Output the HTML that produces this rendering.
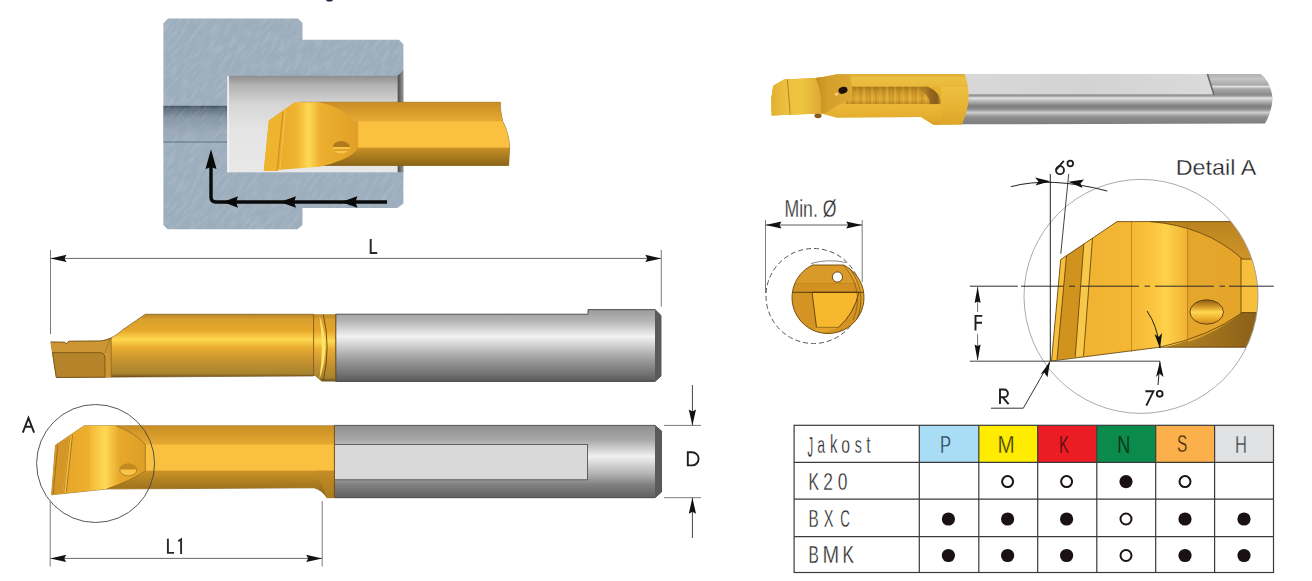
<!DOCTYPE html>
<html><head><meta charset="utf-8">
<style>
html,body{margin:0;padding:0;background:#fff;}
body{width:1312px;height:581px;overflow:hidden;position:relative;}
svg{position:absolute;left:0;top:0;}
text{font-family:"Liberation Sans",sans-serif;}
</style></head>
<body>
<svg width="1312" height="581" viewBox="0 0 1312 581">
<defs>
  <linearGradient id="cav" x1="0" y1="0" x2="0" y2="1">
    <stop offset="0" stop-color="#8e8e8e"/>
    <stop offset="0.1" stop-color="#b4b4b4"/>
    <stop offset="0.3" stop-color="#d6d6d6"/>
    <stop offset="0.55" stop-color="#e4e4e4"/>
    <stop offset="1" stop-color="#e8e8e8"/>
  </linearGradient>
  <linearGradient id="bore" x1="0" y1="0" x2="0" y2="1">
    <stop offset="0" stop-color="#3e4e5c"/>
    <stop offset="0.08" stop-color="#5e6e7c"/>
    <stop offset="0.35" stop-color="#8898a6"/>
    <stop offset="0.7" stop-color="#98a8b6"/>
    <stop offset="1" stop-color="#9cadbc"/>
  </linearGradient>
  <linearGradient id="chamf" x1="0" y1="0" x2="1" y2="0">
    <stop offset="0" stop-color="#4a4a4a"/>
    <stop offset="1" stop-color="#9a9a9a"/>
  </linearGradient>
  <!-- insert highlight horizontal gradient -->
  <linearGradient id="insH" x1="0" y1="0" x2="1" y2="0">
    <stop offset="0" stop-color="#e2a124"/>
    <stop offset="0.35" stop-color="#f0b430"/>
    <stop offset="0.48" stop-color="#ffd855"/>
    <stop offset="0.6" stop-color="#eeb030"/>
    <stop offset="1" stop-color="#dfa026"/>
  </linearGradient>
  <linearGradient id="insTop" x1="51" y1="0" x2="146" y2="0" gradientUnits="userSpaceOnUse">
    <stop offset="0" stop-color="#e2a124"/>
    <stop offset="0.4" stop-color="#eeb030"/>
    <stop offset="0.42" stop-color="#f4bc38"/>
    <stop offset="0.57" stop-color="#ffd855"/>
    <stop offset="0.72" stop-color="#e8a82c"/>
    <stop offset="1" stop-color="#dc9e26"/>
  </linearGradient>
  <linearGradient id="bandTop" x1="0" y1="0" x2="0" y2="1">
    <stop offset="0" stop-color="#c98f25"/>
    <stop offset="1" stop-color="#e6a832"/>
  </linearGradient>
  <linearGradient id="bandBot" x1="0" y1="0" x2="0" y2="1">
    <stop offset="0" stop-color="#c99226"/>
    <stop offset="1" stop-color="#8a6418"/>
  </linearGradient>
  <linearGradient id="goldSide" x1="0" y1="0" x2="0" y2="1">
    <stop offset="0" stop-color="#b88428"/>
    <stop offset="0.08" stop-color="#d9a02e"/>
    <stop offset="0.25" stop-color="#e6a62a"/>
    <stop offset="0.4" stop-color="#ffd850"/>
    <stop offset="0.52" stop-color="#ebae32"/>
    <stop offset="0.72" stop-color="#c99430"/>
    <stop offset="0.94" stop-color="#a8842e"/>
    <stop offset="1" stop-color="#6a5020"/>
  </linearGradient>
  <linearGradient id="graySide" x1="0" y1="0" x2="0" y2="1">
    <stop offset="0" stop-color="#9a9a9a"/>
    <stop offset="0.16" stop-color="#b5b5b5"/>
    <stop offset="0.376" stop-color="#f2f2f2"/>
    <stop offset="0.53" stop-color="#c8c8c8"/>
    <stop offset="0.68" stop-color="#a0a0a0"/>
    <stop offset="0.86" stop-color="#7a7a7a"/>
    <stop offset="1" stop-color="#5a5a5a"/>
  </linearGradient>
  <linearGradient id="grayTop" x1="0" y1="0" x2="0" y2="1">
    <stop offset="0" stop-color="#909090"/>
    <stop offset="0.2" stop-color="#a8a8a8"/>
    <stop offset="0.43" stop-color="#f0f0f0"/>
    <stop offset="0.68" stop-color="#b0b0b0"/>
    <stop offset="0.82" stop-color="#808080"/>
    <stop offset="1" stop-color="#606060"/>
  </linearGradient>
  <linearGradient id="gray3d" x1="0" y1="74" x2="0" y2="124" gradientUnits="userSpaceOnUse">
    <stop offset="0" stop-color="#b0b0b0"/>
    <stop offset="0.1" stop-color="#c4c4c4"/>
    <stop offset="0.22" stop-color="#a8a8a8"/>
    <stop offset="0.25" stop-color="#e2e2e2"/>
    <stop offset="0.3" stop-color="#a6a6a6"/>
    <stop offset="0.41" stop-color="#8c8c8c"/>
    <stop offset="0.44" stop-color="#9a9a9a"/>
    <stop offset="0.48" stop-color="#e4e4e4"/>
    <stop offset="0.54" stop-color="#b8b8b8"/>
    <stop offset="0.64" stop-color="#7e7e7e"/>
    <stop offset="0.7" stop-color="#8a8a8a"/>
    <stop offset="0.77" stop-color="#cdcdcd"/>
    <stop offset="0.86" stop-color="#8e8e8e"/>
    <stop offset="1" stop-color="#7e7e7e"/>
  </linearGradient>
  <linearGradient id="gold3d" x1="0" y1="0" x2="0" y2="1">
    <stop offset="0" stop-color="#e9bf52"/>
    <stop offset="0.25" stop-color="#e8b94a"/>
    <stop offset="0.5" stop-color="#dba235"/>
    <stop offset="0.75" stop-color="#e6ac38"/>
    <stop offset="1" stop-color="#d49a2a"/>
  </linearGradient>
  <linearGradient id="detH" x1="1051" y1="0" x2="1260" y2="0" gradientUnits="userSpaceOnUse">
    <stop offset="0" stop-color="#eeae30"/>
    <stop offset="0.38" stop-color="#f4b834"/>
    <stop offset="0.5" stop-color="#fbc640"/>
    <stop offset="0.55" stop-color="#ffd24c"/>
    <stop offset="0.66" stop-color="#eeb030"/>
    <stop offset="1" stop-color="#e2a22a"/>
  </linearGradient>
  <linearGradient id="detTR" x1="0" y1="221" x2="0" y2="259" gradientUnits="userSpaceOnUse">
    <stop offset="0" stop-color="#b8841e"/>
    <stop offset="1" stop-color="#d09428"/>
  </linearGradient>
  <linearGradient id="detBR" x1="1160" y1="0" x2="1258" y2="0" gradientUnits="userSpaceOnUse">
    <stop offset="0" stop-color="#b88624"/>
    <stop offset="1" stop-color="#8a6018"/>
  </linearGradient>
  <linearGradient id="detHole" x1="0" y1="0" x2="0" y2="1">
    <stop offset="0" stop-color="#8a5c14"/>
    <stop offset="0.3" stop-color="#d89a28"/>
    <stop offset="0.5" stop-color="#ffd850"/>
    <stop offset="0.75" stop-color="#f0b030"/>
    <stop offset="1" stop-color="#c88a20"/>
  </linearGradient>
  <linearGradient id="grayFlat" x1="0" y1="0" x2="1" y2="0">
    <stop offset="0" stop-color="#d8d8d8"/>
    <stop offset="0.5" stop-color="#d3d3d3"/>
    <stop offset="1" stop-color="#dadada"/>
  </linearGradient>
  <linearGradient id="fluteEnd" x1="915" y1="0" x2="941" y2="0" gradientUnits="userSpaceOnUse">
    <stop offset="0" stop-color="#b88a30" stop-opacity="0"/>
    <stop offset="0.55" stop-color="#9a6a20"/>
    <stop offset="0.85" stop-color="#8a5c18"/>
    <stop offset="1" stop-color="#c89634"/>
  </linearGradient>
  <linearGradient id="g3top" x1="0" y1="0" x2="0" y2="1">
    <stop offset="0" stop-color="#dcaa30"/>
    <stop offset="0.3" stop-color="#ecc040"/>
    <stop offset="1" stop-color="#e8b83a"/>
  </linearGradient>
  <linearGradient id="g3flute" x1="0" y1="0" x2="0" y2="1">
    <stop offset="0" stop-color="#a87818"/>
    <stop offset="0.3" stop-color="#cc9626"/>
    <stop offset="0.7" stop-color="#deaa32"/>
    <stop offset="1" stop-color="#c08a22"/>
  </linearGradient>
  <pattern id="g3stripes" x="846" y="0" width="23" height="200" patternUnits="userSpaceOnUse">
    <rect x="0" y="0" width="1.6" height="200" fill="#a47420"/>
    <rect x="2.5" y="0" width="1.3" height="200" fill="#f2c860"/>
    <rect x="6" y="0" width="2" height="200" fill="#a87822"/>
    <rect x="10.5" y="0" width="1.2" height="200" fill="#f0c45a"/>
    <rect x="14" y="0" width="1.4" height="200" fill="#a47420"/>
    <rect x="17" y="0" width="2" height="200" fill="#eec058"/>
    <rect x="20.5" y="0" width="1.2" height="200" fill="#a87822"/>
  </pattern>
  <linearGradient id="g3low" x1="0" y1="0" x2="0" y2="1">
    <stop offset="0" stop-color="#ecb838"/>
    <stop offset="0.6" stop-color="#e6ae2e"/>
    <stop offset="1" stop-color="#d89e22"/>
  </linearGradient>
  <linearGradient id="g3right" x1="0" y1="0" x2="0" y2="1">
    <stop offset="0" stop-color="#eec040"/>
    <stop offset="0.5" stop-color="#e8b434"/>
    <stop offset="1" stop-color="#dca628"/>
  </linearGradient>
  <linearGradient id="g3ins" x1="0" y1="0" x2="1" y2="0">
    <stop offset="0" stop-color="#ecbe38"/>
    <stop offset="0.6" stop-color="#eec440"/>
    <stop offset="1" stop-color="#dca632"/>
  </linearGradient>
  <linearGradient id="g3insL" x1="0" y1="0" x2="1" y2="0">
    <stop offset="0" stop-color="#e2b030"/>
    <stop offset="1" stop-color="#f0c444"/>
  </linearGradient>
  <linearGradient id="g3clamp" x1="0" y1="0" x2="1" y2="0">
    <stop offset="0" stop-color="#c48c1e"/>
    <stop offset="0.3" stop-color="#d49e2a"/>
    <stop offset="1" stop-color="#dca834"/>
  </linearGradient>
  <marker id="arr" viewBox="0 0 10 6" refX="10" refY="3" markerWidth="14" markerHeight="6" markerUnits="userSpaceOnUse" orient="auto">
    <path d="M0,0 L10,3 L0,6 L3,3 Z" fill="#111"/>
  </marker>
  <filter id="tex" x="-100" y="-200" width="800" height="700" filterUnits="userSpaceOnUse">
    <feTurbulence type="fractalNoise" baseFrequency="0.3 0.07" numOctaves="3" seed="7" result="n"/>
    <feColorMatrix in="n" type="matrix" values="0 0 0 0 1  0 0 0 0 1  0 0 0 0 1  1.4 0 0 0 -0.55" result="w"/>
    <feGaussianBlur in="w" stdDeviation="0.6"/>
  </filter>
  <clipPath id="blockclip"><path d="M163.4,23.5 L168,18.5 L298,18.5 L302.5,23 L302.5,39.8 L399,39.8 L403.4,44.5 L403.4,203.4 L397.7,208 L302.5,208 L302.5,225 L297.5,229.3 L167.5,229.3 L163.4,225 Z"/></clipPath>
</defs>

<!-- descender of cut-off title -->
<ellipse cx="329.5" cy="0" rx="3.2" ry="1.6" fill="#1c2440"/>

<!-- ============ WORKPIECE SECTION ============ -->
<path d="M163.4,23.5 L168,18.5 L298,18.5 L302.5,23 L302.5,39.8 L399,39.8 L403.4,44.5 L403.4,203.4 L397.7,208 L302.5,208 L302.5,225 L297.5,229.3 L167.5,229.3 L163.4,225 Z" fill="#9cadbc"/>
<!-- bore -->
<rect x="163.4" y="105.8" width="64" height="36.2" fill="url(#bore)"/>
<line x1="163.4" y1="142" x2="227.3" y2="142" stroke="#5a6a78" stroke-width="1"/>
<g clip-path="url(#blockclip)"><g transform="rotate(38 283 124)"><rect x="-100" y="-200" width="800" height="700" filter="url(#tex)" opacity="0.22"/></g></g>
<!-- cavity -->
<rect x="227.3" y="75.8" width="172" height="96.5" fill="url(#cav)"/>
<path d="M397.7,75.8 L403.4,70 L403.4,172.3 L397.7,172.3 Z" fill="url(#chamf)"/>
<rect x="227.3" y="75.8" width="1.6" height="96.5" fill="#f6f6f6"/>

<!-- tool in cavity: shank -->
<path d="M300,102.3 L500.3,102.3 L500.3,108 Q501,113 502.5,121 Q509,133 509.6,147.7 L508.6,165.5 L300,165.5 Z" fill="#e0a22e" stroke="#7a5410" stroke-width="0.7"/>
<path d="M300,102.3 L500.3,102.3 L500.3,108 Q501,113 502.5,121 L300,121 Z" fill="url(#bandTop)"/>
<path d="M358.2,121.3 L502.5,121.3 Q509,133 509.6,147.7 L358.2,147.7 Z" fill="#f9c13f"/>
<path d="M300,147.7 L509.6,147.7 L508.6,165.5 L300,165.5 Z" fill="url(#bandBot)"/>
<!-- insert -->
<path d="M294.5,102.3 L318,102.3 Q338,106 350,117 Q357.4,125 357.4,135 L357.4,149 Q352,156 342.8,159.4 Q332,164 319.4,166.7 L263.8,171.1 L268.9,120.6 Z" fill="url(#insH)"/>
<path d="M268.9,120.6 L282.8,112 L277,171 L263.8,171.1 Z" fill="#eeb42e"/>
<line x1="282.8" y1="112" x2="277" y2="171" stroke="#c08820" stroke-width="0.8"/>
<line x1="285.5" y1="110" x2="279.8" y2="170.5" stroke="#f6c040" stroke-width="1.2"/>
<ellipse cx="341.3" cy="147.7" rx="8.5" ry="5.9" fill="#f8c548"/>
<path d="M332.8,147 A8.5,5.9 0 0 1 349.8,147 Z" fill="#b07a1c"/>
<rect x="333.5" y="149.2" width="15.6" height="1.6" fill="#d69a28"/>

<!-- arrows in section -->
<path d="M211,165 L211,197 Q211,202 216,202 L387,202" fill="none" stroke="#0a0a0a" stroke-width="3.4"/>
<path d="M211,149.2 L216.5,169 L211,167 L205.5,169 Z" fill="#0a0a0a"/>
<path d="M223,202 L238,196.3 L236,202 L238,207.7 Z" fill="#0a0a0a"/>
<path d="M280,202 L296,196.3 L294,202 L296,207.7 Z" fill="#0a0a0a"/>
<path d="M341,202 L357.4,196.3 L355.4,202 L357.4,207.7 Z" fill="#0a0a0a"/>

<!-- ============ DIMENSION L ============ -->
<line x1="50.5" y1="250" x2="50.5" y2="334" stroke="#7a7a7a" stroke-width="1"/>
<line x1="661.3" y1="250" x2="661.3" y2="306.6" stroke="#7a7a7a" stroke-width="1"/>
<line x1="51" y1="258.4" x2="661" y2="258.4" stroke="#6a6a6a" stroke-width="1"/>
<path d="M50.5,258.4 L66.5,254.8 L64.5,258.4 L66.5,262 Z" fill="#111"/>
<path d="M661.3,258.4 L645.3,254.8 L647.3,258.4 L645.3,262 Z" fill="#111"/>
<path d="M370.7,239 V253 H377.2" fill="none" stroke="#2a2a2a" stroke-width="2"/>

<!-- ============ SIDE VIEW ============ -->
<path d="M335.7,314.2 L588,314.2 L588,309.6 L655,309.6 L661,315.5 L661,376 L655,381.4 L335.7,381.4 Z" fill="url(#graySide)" stroke="#333" stroke-width="0.8"/>
<path d="M655,309.6 L661,315.5 L661,376 L655,381.4 Z" fill="#5a5a5a"/>
<path d="M50.8,342 L64.8,342.3 L66.5,344 L68.5,341.3 L100.4,341 C110,340 118,334 123,329.5 L145.3,314.2 L313.6,314.2 L313.6,376 L56.3,377.4 Z" fill="url(#goldSide)" stroke="#6a4a10" stroke-width="0.6"/>

<path d="M50.8,342 L64.8,342.3 L66.5,344 L68.5,341.3 L100.4,341 C104,340.6 108,339.5 111.2,338 L111.2,377 L105,377 L105,358 Q105,353.5 101,352.6 L52.5,352.6 Z" fill="#cc9634"/>
<path d="M52.5,352.6 L101,352.6 Q105,353.5 105,358 L105,377.2 L56.3,377.4 Z" fill="#b5832a" stroke="#6a4a10" stroke-width="0.7"/>
<line x1="111.2" y1="338" x2="111.2" y2="377" stroke="#8a6018" stroke-width="0.7"/>
<path d="M50.8,342 L64.8,342.3 L66.5,344 L68.5,341.3 L100.4,341 C104,340.6 108,339.5 111.2,338" fill="none" stroke="#6a4a10" stroke-width="0.7"/>
<line x1="105" y1="353" x2="109.7" y2="338.5" stroke="#8a6018" stroke-width="0.5"/>
<!-- ring -->
<path d="M313.6,314.2 L335.7,314.2 L335.7,381.4 L321.8,381.4 L315,376 L313.6,376 Z" fill="url(#goldSide)"/>
<line x1="313.6" y1="314.2" x2="313.6" y2="376" stroke="#7a5412" stroke-width="0.7"/>
<path d="M323.3,314.5 Q331,347 323.3,381" fill="none" stroke="#6a4a10" stroke-width="0.9"/>
<path d="M319.5,316 Q331,347.5 319.5,379 Q324,347.5 319.5,316 Z" fill="#ffe46a"/>
<line x1="335.7" y1="314.2" x2="335.7" y2="381.4" stroke="#6a4a10" stroke-width="0.8"/>

<!-- ============ TOP VIEW ============ -->
<path d="M334.4,425.4 L655,425.4 L661.5,431 L661.5,492 L655,497.7 L334.4,497.7 Z" fill="url(#grayTop)" stroke="#333" stroke-width="0.8"/>
<path d="M655,425.4 L661.5,431 L661.5,492 L655,497.7 Z" fill="#5a5a5a"/>
<rect x="334.4" y="444.4" width="253" height="35.4" fill="#d9d9d9" stroke="#444" stroke-width="0.8"/>
<!-- gold -->
<path d="M84.1,425.8 L334.4,425.8 L334.4,497.7 L327,497.7 Q322,490 314,487.8 L106.6,489 L51.6,494.8 L55.5,445.2 Z" fill="#e3a42e" stroke="#6a4a10" stroke-width="0.6"/>
<rect x="100" y="425.8" width="234.4" height="18.6" fill="url(#bandTop)"/>
<rect x="120" y="444.4" width="214.4" height="26.4" fill="#dca030"/>
<rect x="145.3" y="444.4" width="189" height="26.4" fill="#f9c13f"/>
<path d="M100,470.8 L334.4,470.8 L334.4,497.7 L327,497.7 Q322,490 314,487.8 L100,488.5 Z" fill="url(#bandBot)"/>
<path d="M314,470.8 L316,471 Q322,485 327,497.7 L334.4,497.7 L334.4,470.8 Z" fill="#c08a26" opacity="0.6"/>
<line x1="334.4" y1="425.8" x2="334.4" y2="497.7" stroke="#6a4a10" stroke-width="0.8"/>
<!-- insert top view -->
<path d="M84.1,425.8 L115.9,425.8 Q136,433.6 145.3,444.4 L145.3,470.8 Q133,480 106.6,489 L51.6,494.8 L55.5,445.2 Z" fill="url(#insTop)"/>
<path d="M55.5,445.2 L72.5,435 L66.3,492 L51.6,494.8 Z" fill="#d49626"/>
<path d="M69.2,437 L72.5,435 L66.3,492 L63,492.6 Z" fill="#f4c040"/>
<line x1="57.8" y1="445" x2="53.2" y2="494" stroke="#9a6a18" stroke-width="0.8"/>
<line x1="72.5" y1="435" x2="66.3" y2="492" stroke="#9a6a18" stroke-width="0.8"/>
<line x1="70" y1="436.5" x2="63.8" y2="492.5" stroke="#9a6a18" stroke-width="0.6"/>
<path d="M115.9,425.8 Q136,433.6 145.3,444.4 L145.3,470.8 Q133,480 106.6,489" fill="none" stroke="#8a6018" stroke-width="0.6"/>
<ellipse cx="128.3" cy="470" rx="8.5" ry="5.9" fill="#f8c548" stroke="#8a6018" stroke-width="0.6"/>
<path d="M119.8,469.5 A8.5,5.9 0 0 1 136.8,469.5 Z" fill="#c48a22"/>
<!-- circle A -->
<circle cx="95.6" cy="463.5" r="59" fill="none" stroke="#444" stroke-width="0.9"/>
<path d="M22.8,432.7 L28.45,418 L34.1,432.7 M25.2,426.8 H31.7" fill="none" stroke="#1e1e1e" stroke-width="1.9"/>

<!-- ============ DIMENSION L1 ============ -->
<line x1="50.2" y1="501" x2="50.2" y2="566.5" stroke="#7a7a7a" stroke-width="1"/>
<line x1="322.2" y1="501" x2="322.2" y2="566.5" stroke="#7a7a7a" stroke-width="1"/>
<line x1="51" y1="558.4" x2="322" y2="558.4" stroke="#6a6a6a" stroke-width="1"/>
<path d="M50.2,558.4 L66.2,554.8 L64.2,558.4 L66.2,562 Z" fill="#111"/>
<path d="M322.2,558.4 L306.2,554.8 L308.2,558.4 L306.2,562 Z" fill="#111"/>
<path d="M167.9,538.7 V552.9 H174.1 M181.1,553.9 V539.4 L178.3,541.3" fill="none" stroke="#2a2a2a" stroke-width="1.9"/>

<!-- ============ DIMENSION D ============ -->
<line x1="664" y1="425.4" x2="701" y2="425.4" stroke="#7a7a7a" stroke-width="1"/>
<line x1="664" y1="497.7" x2="701" y2="497.7" stroke="#7a7a7a" stroke-width="1"/>
<line x1="692.4" y1="385" x2="692.4" y2="425" stroke="#444" stroke-width="1"/>
<line x1="692.4" y1="498" x2="692.4" y2="538" stroke="#444" stroke-width="1"/>
<path d="M692.4,425.4 L688.8,409.4 L692.4,411.4 L696,409.4 Z" fill="#111"/>
<path d="M692.4,497.7 L688.8,513.7 L692.4,511.7 L696,513.7 Z" fill="#111"/>
<path d="M687.8,452.2 V465.4 H692 A6.6,6.6 0 0 0 692,452.2 Z" fill="none" stroke="#1e1e1e" stroke-width="1.9"/>

<!-- ============ 3D TOOL (top right) ============ -->
<path d="M960,74 L1260.5,74 Q1270,80 1272.8,98.6 Q1271,114 1265,123.4 L960,124.3 Z" fill="url(#gray3d)"/>
<path d="M960,74 L1207.4,74 L1213.6,94.6 L960,94.6 Z" fill="url(#grayFlat)"/>
<line x1="960" y1="94.8" x2="1214" y2="94.8" stroke="#9a9a9a" stroke-width="0.8"/>
<line x1="1207.4" y1="74" x2="1214" y2="95" stroke="#6a6a6a" stroke-width="1.6"/>
<!-- gold body -->
<path d="M837.3,74.3 L964.6,74.3 Q972,98 961.8,124.6 L933.4,124.8 L921,117 L836,117.5 L820.8,113.6 L771.7,115.6 L771.2,99 L773.3,85.7 L784.1,79.5 L815.6,77.9 L822.9,76.9 Z" fill="#e6b030"/>
<!-- top face -->
<path d="M849.7,74.3 L964.6,74.3 Q967,80 968,86.8 L852.3,86.8 Z" fill="url(#g3top)"/>
<!-- flute -->
<path d="M852.3,86.8 L927.8,86.8 Q940,92 941.2,103.6 L941.2,104.2 L846,104.2 L846,92 Z" fill="url(#g3flute)"/>
<path d="M852.3,86.8 L927.8,86.8 Q940,92 941.2,103.6 L941.2,104.2 L846,104.2 L846,92 Z" fill="url(#g3stripes)" opacity="0.3"/>
<path d="M912,86.8 L927.8,86.8 Q940,92 941.2,103.6 L941.2,104.2 L930,104.2 Q930,93 912,86.8 Z" fill="url(#fluteEnd)"/>
<!-- lower face -->
<path d="M836,104.2 L941.2,104.2 Q942,112 941,124.8 L933.4,124.8 L921,117 L836,117.5 Z" fill="url(#g3low)"/>
<!-- right head -->
<path d="M941.2,86.8 L968,86.8 Q971,104 961.8,124.6 L941,124.8 Q942,112 941.2,103.6 Z" fill="url(#g3right)"/>
<!-- insert -->
<path d="M784.1,79.5 L815.6,77.9 L822.9,76.9 L822,112 L820.8,113.6 L771.7,115.6 L771.2,99 L773.3,85.7 Z" fill="url(#g3ins)"/>
<path d="M784.1,79.5 L787.2,79.4 L790.2,114.6 L771.7,115.6 L771.2,99 L773.3,85.7 Z" fill="url(#g3insL)"/>
<line x1="787.4" y1="79.4" x2="790.2" y2="114.6" stroke="#a87a20" stroke-width="0.9"/>
<!-- clamp -->
<path d="M815.6,77.9 L822.9,76.9 L837.3,74.3 L849.7,74.3 L852.3,86.8 L852.3,100 Q838,103 826,113 L820.8,113.6 Q823,95 815.6,77.9 Z" fill="url(#g3clamp)"/>
<ellipse cx="843" cy="90.3" rx="4.6" ry="3.4" fill="#1e1206" transform="rotate(-15 843 90.3)"/>
<ellipse cx="836.5" cy="94.3" rx="1.6" ry="1.2" fill="#f4d890"/>
<ellipse cx="818" cy="115.8" rx="3.6" ry="2.4" fill="#8a5a1c"/>

<!-- ============ MIN DIAMETER ============ -->
<text transform="translate(784.49 217.32) scale(0.731 1)" font-size="24.13" fill="#2a2a2a" stroke="#fff" stroke-width="0.3">Min. Ø</text>
<line x1="765.5" y1="220" x2="765.5" y2="293" stroke="#7a7a7a" stroke-width="1"/>
<line x1="862.2" y1="220" x2="862.2" y2="282" stroke="#7a7a7a" stroke-width="1"/>
<line x1="766" y1="225" x2="862" y2="225" stroke="#5a5a5a" stroke-width="1"/>
<path d="M765.5,225 L781.5,221.4 L779.5,225 L781.5,228.6 Z" fill="#111"/>
<path d="M862.2,225 L846.2,221.4 L848.2,225 L846.2,228.6 Z" fill="#111"/>
<circle cx="813.5" cy="296" r="47.5" fill="none" stroke="#555" stroke-width="1" stroke-dasharray="5 3"/>
<path d="M811,263.5 Q828,258.5 846,262.5" fill="none" stroke="#8a8a8a" stroke-width="1"/>
<clipPath id="endclip"><path d="M812.5,265 L843.5,265 A36,36 0 1 1 812.5,265 Z"/></clipPath>
<g clip-path="url(#endclip)">
  <rect x="790" y="255" width="80" height="80" fill="#d99a2a"/>
  <rect x="790" y="283.5" width="80" height="9" fill="#d29222"/>
  <line x1="790" y1="283.5" x2="870" y2="283.5" stroke="#b88020" stroke-width="0.6"/>
  <rect x="790" y="292.3" width="80" height="45" fill="#d49424"/>
  <path d="M840,263 Q866,285 860,320 Q852,334 838,334 L870,334 L870,255 Z" fill="#e2a42c"/>
  <path d="M812,292.3 L858.9,292.3 Q854,314 838.4,327.4 L816.5,327.4 Z" fill="#f7b72f" stroke="#4a3008" stroke-width="0.8"/>
  <path d="M816.5,327.4 L838.4,327.4 Q826,333 810,333 Z" fill="#e2a42c"/>
  <line x1="790" y1="292.3" x2="866" y2="292.3" stroke="#4a3008" stroke-width="0.9"/>
  <path d="M845,263 Q870,290 856,322 Q849,330 838,332" fill="none" stroke="#6a4a10" stroke-width="0.7"/>
  <path d="M842,263.5 Q866,290 853,320" fill="none" stroke="#6a4a10" stroke-width="0.6"/>
</g>
<path d="M812.5,265 L843.5,265 A36,36 0 1 1 812.5,265 Z" fill="none" stroke="#6a4a10" stroke-width="0.9"/>
<circle cx="837.4" cy="277" r="5.1" fill="#fff" stroke="#5a3c0c" stroke-width="0.9"/>

<!-- ============ DETAIL A ============ -->
<text transform="translate(1175.73 174.58) scale(1.081 1)" font-size="21.62" fill="#1e1e1e" stroke="#fff" stroke-width="0.3">Detail A</text>
<g fill="none" stroke="#1e1e1e" stroke-width="1.8"><path d="M1063.8,160.9 L1056.3,169.6"/><circle cx="1060" cy="170.2" r="4.0"/><circle cx="1070.3" cy="163.5" r="2.8"/></g>
<g>
  <clipPath id="detclip"><circle cx="1141" cy="296.4" r="117"/></clipPath>
  <g clip-path="url(#detclip)">
    <!-- whole insert body -->
    <path d="M1060.7,259.6 L1117,221.6 L1300,221.6 L1300,347.2 L1160,347.2 L1051.5,361 Z" fill="url(#detH)"/>
    <!-- top-right dark region above curve -->
    <path d="M1150,221.6 L1300,221.6 L1300,259.1 L1241,259.1 L1241,257.8 Q1205,226 1150,221.6 Z" fill="url(#detTR)"/>
    <!-- right face -->
    <path d="M1241,259.1 L1300,259.1 L1300,312.6 L1241,312.6 Z" fill="#f6bf3c"/>
    <!-- bottom-right region -->
    <path d="M1241,312.6 L1300,312.6 L1300,347.2 L1165,347.2 Q1210,336 1241,313.4 Z" fill="url(#detBR)"/>
    <!-- main face inside curve: subtle tone -->
    <path d="M1187.6,228 Q1220,238 1241,257.8 L1241,313.4 Q1218,332 1187.6,342.2 Z" fill="#e4a42c" opacity="0.85"/>
    <!-- left strips -->
    <path d="M1060.7,259.6 L1066.5,255.6 L1057,359.6 L1051.5,361 Z" fill="#f6c03c"/>
    <path d="M1066.5,255.6 L1083.5,244.2 L1075,357.2 L1057,359.6 Z" fill="#d0941e"/>
    <path d="M1084.5,243.5 L1092.5,238.1 L1083.5,356.1 L1075.5,357.1 Z" fill="#f8c848"/>
    <g stroke="#5a3c0c" stroke-width="0.8" fill="none">
      <line x1="1060.7" y1="259.6" x2="1051.5" y2="361"/>
      <line x1="1066.5" y1="255.6" x2="1057" y2="359.6"/>
      <line x1="1083.8" y1="244" x2="1075.2" y2="357.1"/>
      <line x1="1092.5" y1="238.1" x2="1083.5" y2="356.1"/>
      <path d="M1060.7,259.6 L1117,221.6 L1230.7,221.6"/>
      <path d="M1051.5,361 L1160,347.2 L1250,347.2"/>
      <path d="M1150,221.6 Q1205,226 1241,257.8 L1241,313.4 Q1210,336 1160,347.2"/>
      <line x1="1241" y1="259.1" x2="1260" y2="259.1"/>
      <line x1="1241" y1="312.6" x2="1260" y2="312.6"/>
    </g>
    <line x1="1131.5" y1="221.6" x2="1131.5" y2="352" stroke="#b07a1a" stroke-width="0.7"/>
    <line x1="1187.6" y1="221.6" x2="1187.6" y2="344" stroke="#a87418" stroke-width="0.7"/>
    <ellipse cx="1206.7" cy="312" rx="16.8" ry="12.2" fill="url(#detHole)" stroke="#5a3c0c" stroke-width="0.9"/>
  </g>
  <circle cx="1141" cy="296.4" r="117" fill="none" stroke="#a0a0a0" stroke-width="0.9"/>
</g>
<!-- detail lines -->
<path d="M969.8,286.2 H1017.8 M1021,286.2 H1063.7 M1069,286.2 H1075 M1081,286.2 H1139 M1144.5,286.2 H1150 M1155,286.2 H1214 M1219.5,286.2 H1225 M1229,286.2 H1273.8" stroke="#2a2a2a" stroke-width="1" fill="none"/>
<line x1="969.8" y1="361.2" x2="1160" y2="361.2" stroke="#444" stroke-width="1"/>
<line x1="1050.3" y1="174" x2="1050.3" y2="361" stroke="#222" stroke-width="1"/>
<line x1="1068.7" y1="174" x2="1060.8" y2="253.7" stroke="#444" stroke-width="1"/>
<path d="M1010.9,186.7 Q1050,176 1107.3,191" fill="none" stroke="#222" stroke-width="1"/>
<path d="M1050.3,181.3 L1035,177.5 L1038.5,181.5 L1035.5,185.5 Z" fill="#111"/>
<path d="M1068.5,181.8 L1084,179.5 L1080.5,183.5 L1082.5,188 Z" fill="#111"/>
<line x1="977.6" y1="287" x2="977.6" y2="360" stroke="#777" stroke-width="1"/>
<path d="M977.6,286.7 L974.6,303 L977.6,301.5 L980.6,303 Z" fill="#111"/>
<path d="M977.6,360.8 L974.6,344.5 L977.6,346 L980.6,344.5 Z" fill="#111"/>
<rect x="971" y="312" width="14" height="22" fill="#fff"/>
<path d="M975.5,330.6 V315.9 H982.3 M975.5,322.7 H982" fill="none" stroke="#1e1e1e" stroke-width="1.9"/>
<line x1="1050" y1="361.5" x2="1023.3" y2="408.2" stroke="#333" stroke-width="1"/>
<line x1="1023.3" y1="408.2" x2="991" y2="408.2" stroke="#333" stroke-width="1"/>
<path d="M1050,361.5 L1040.5,374.5 L1044.2,372.5 L1047.5,377.2 Z" fill="#111"/>
<path d="M1000,404.1 V389.5 H1004 A3.9,3.9 0 0 1 1004,397.3 H1000 M1002.8,397.3 L1008.6,404.1" fill="none" stroke="#1e1e1e" stroke-width="1.9"/>
<path d="M1147,311 Q1157,325 1160,348" fill="none" stroke="#222" stroke-width="1"/>
<path d="M1160,348.6 L1154.5,334 L1158.8,337 L1162,333 Z" fill="#111"/>
<line x1="1160" y1="361.5" x2="1158" y2="385" stroke="#222" stroke-width="1"/>
<path d="M1160,361.5 L1156,377 L1159.5,373.5 L1163.5,377 Z" fill="#111"/>
<g fill="none" stroke="#1e1e1e" stroke-width="1.9"><path d="M1145.4,391.3 H1153.4 L1146.3,405.7"/><circle cx="1159.7" cy="393.8" r="2.9"/></g>

<!-- ============ TABLE ============ -->
<g>
  <rect x="919.3" y="425.3" width="59.5" height="37.1" fill="#a9dcf5"/>
  <rect x="978.8" y="425.3" width="58.9" height="37.1" fill="#ffec00"/>
  <rect x="1037.7" y="425.3" width="59.1" height="37.1" fill="#ec1c24"/>
  <rect x="1096.8" y="425.3" width="58.9" height="37.1" fill="#0b8b4b"/>
  <rect x="1155.7" y="425.3" width="58.9" height="37.1" fill="#fbb04b"/>
  <rect x="1214.6" y="425.3" width="58.9" height="37.1" fill="#e1e2e4"/>
  <g stroke="#3a3a3a" stroke-width="1.2" fill="none">
    <rect x="794.1" y="425.3" width="479.4" height="147.2"/>
    <line x1="794.1" y1="462.4" x2="1273.5" y2="462.4"/>
    <line x1="794.1" y1="499.2" x2="1273.5" y2="499.2"/>
    <line x1="794.1" y1="536.6" x2="1273.5" y2="536.6"/>
    <line x1="919.3" y1="425.3" x2="919.3" y2="572.5"/>
    <line x1="978.8" y1="425.3" x2="978.8" y2="572.5"/>
    <line x1="1037.7" y1="425.3" x2="1037.7" y2="572.5"/>
    <line x1="1096.8" y1="425.3" x2="1096.8" y2="572.5"/>
    <line x1="1155.7" y1="425.3" x2="1155.7" y2="572.5"/>
    <line x1="1214.6" y1="425.3" x2="1214.6" y2="572.5"/>
  </g>
  <g>
<text stroke="#ffffff" stroke-width="0.35" transform="translate(807.38 456.70) scale(0.372 1)" font-size="30.14" fill="#262626">J</text>
<text stroke="#ffffff" stroke-width="0.35" transform="translate(817.14 453.06) scale(0.589 1)" font-size="23.82" fill="#262626">a</text>
<text stroke="#ffffff" stroke-width="0.35" transform="translate(830.06 453.30) scale(0.594 1)" font-size="25.07" fill="#262626">k</text>
<text stroke="#ffffff" stroke-width="0.35" transform="translate(841.37 453.06) scale(0.661 1)" font-size="23.82" fill="#262626">o</text>
<text stroke="#ffffff" stroke-width="0.35" transform="translate(854.77 453.06) scale(0.596 1)" font-size="23.82" fill="#262626">s</text>
<text stroke="#ffffff" stroke-width="0.35" transform="translate(866.19 453.05) scale(0.630 1)" font-size="24.77" fill="#262626">t</text>
<text stroke="#ffffff" stroke-width="0.35" transform="translate(808.54 490.20) scale(0.652 1)" font-size="24.20" fill="#262626">K</text>
<text stroke="#ffffff" stroke-width="0.35" transform="translate(823.33 490.20) scale(0.729 1)" font-size="23.86" fill="#262626">2</text>
<text stroke="#ffffff" stroke-width="0.35" transform="translate(837.80 489.96) scale(0.744 1)" font-size="23.52" fill="#262626">0</text>
<text stroke="#ffffff" stroke-width="0.35" transform="translate(808.58 526.90) scale(0.620 1)" font-size="24.64" fill="#262626">B</text>
<text stroke="#ffffff" stroke-width="0.35" transform="translate(823.76 526.90) scale(0.592 1)" font-size="24.64" fill="#262626">X</text>
<text stroke="#ffffff" stroke-width="0.35" transform="translate(840.13 526.66) scale(0.557 1)" font-size="23.94" fill="#262626">C</text>
<text stroke="#ffffff" stroke-width="0.35" transform="translate(808.56 563.00) scale(0.643 1)" font-size="24.06" fill="#262626">B</text>
<text stroke="#ffffff" stroke-width="0.35" transform="translate(822.60 563.00) scale(0.831 1)" font-size="24.06" fill="#262626">M</text>
<text stroke="#ffffff" stroke-width="0.35" transform="translate(842.52 563.00) scale(0.715 1)" font-size="24.06" fill="#262626">K</text>
<text stroke="#a9dcf5" stroke-width="0.35" transform="translate(939.97 452.60) scale(0.670 1)" font-size="24.78" fill="#2c3e4c">P</text>
<text stroke="#ffec00" stroke-width="0.35" transform="translate(997.55 452.60) scale(0.831 1)" font-size="24.78" fill="#33300c">M</text>
<text stroke="#ec1c24" stroke-width="0.35" transform="translate(1059.11 452.60) scale(0.602 1)" font-size="24.78" fill="#3c0e10">K</text>
<text stroke="#0b8b4b" stroke-width="0.35" transform="translate(1117.16 452.60) scale(0.728 1)" font-size="24.78" fill="#0c2418">N</text>
<text stroke="#fbb04b" stroke-width="0.35" transform="translate(1176.93 452.36) scale(0.641 1)" font-size="24.08" fill="#3a2810">S</text>
<text stroke="#e1e2e4" stroke-width="0.35" transform="translate(1234.97 452.60) scale(0.670 1)" font-size="24.78" fill="#3a3e48">H</text>

  </g>
  <g fill="#1a1212">
    <!-- row BXC -->
    <circle cx="948.4" cy="519" r="6.6"/><circle cx="1007.6" cy="519" r="6.6"/><circle cx="1066.6" cy="519" r="6.6"/>
    <circle cx="1185" cy="519" r="6.6"/><circle cx="1244" cy="519" r="6.6"/>
    <!-- row BMK -->
    <circle cx="948.4" cy="555.5" r="6.6"/><circle cx="1007.6" cy="555.5" r="6.6"/><circle cx="1066.6" cy="555.5" r="6.6"/>
    <circle cx="1185" cy="555.5" r="6.6"/><circle cx="1244" cy="555.5" r="6.6"/>
    <!-- K20 filled N -->
    <circle cx="1126" cy="481.6" r="6.6"/>
  </g>
  <g fill="none" stroke="#1a1212" stroke-width="2">
    <circle cx="1007.6" cy="481.6" r="5.5"/><circle cx="1066.6" cy="481.6" r="5.5"/><circle cx="1185" cy="481.6" r="5.5"/>
    <circle cx="1126" cy="519" r="5.5"/><circle cx="1126" cy="555.5" r="5.5"/>
  </g>
</g>
</svg>
</body></html>
